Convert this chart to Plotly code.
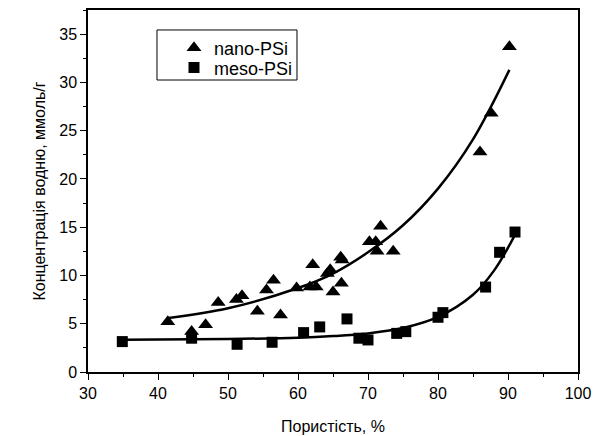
import plotly.graph_objects as go

# nano-PSi measured points
nano_x = [41.4, 44.8, 46.8, 48.6, 51.2, 52.0, 54.2, 55.5, 56.5, 57.5, 59.8, 61.7, 62.1, 62.6,
          64.2, 64.6, 65.0, 66.2, 66.1, 66.3, 70.2, 71.1, 71.3, 71.8, 73.6, 86.0, 87.6, 90.2]
nano_y = [5.2, 4.2, 4.9, 7.2, 7.5, 7.9, 6.3, 8.5, 9.5, 5.9, 8.7, 8.8, 11.1, 8.8,
          10.2, 10.6, 8.3, 9.2, 11.9, 11.6, 13.5, 13.5, 12.5, 15.1, 12.5, 22.8, 26.8, 33.7]

# meso-PSi measured points
meso_x = [34.9, 44.8, 51.3, 56.3, 60.8, 63.1, 67.0, 68.7, 70.0, 74.1, 75.4, 80.0, 80.7, 86.8, 88.8, 91.0]
meso_y = [3.15, 3.5, 2.87, 3.08, 4.08, 4.67, 5.5, 3.5, 3.32, 4.0, 4.18, 5.67, 6.15, 8.8, 12.4, 14.5]

# fitted curves
nano_fit_x = [41.5, 50, 60, 65, 70, 75, 80, 85, 90.2]
nano_fit_y = [5.6, 6.6, 8.7, 10.2, 12.4, 15.2, 19.0, 24.1, 31.3]
meso_fit_x = [35, 50, 60, 65, 70, 75, 80, 85, 88, 91]
meso_fit_y = [3.35, 3.42, 3.55, 3.72, 4.0, 4.55, 5.7, 8.0, 10.5, 14.2]

x_ticks = [30, 40, 50, 60, 70, 80, 90, 100]
y_ticks = [0, 5, 10, 15, 20, 25, 30, 35]

FONT = "Liberation Sans, Arial, sans-serif"

fig = go.Figure()
fig.add_trace(go.Scatter(x=nano_fit_x, y=nano_fit_y, mode="lines", line=dict(color="black", width=2.5, shape="spline"),
                         showlegend=False, hoverinfo="skip"))
fig.add_trace(go.Scatter(x=meso_fit_x, y=meso_fit_y, mode="lines", line=dict(color="black", width=2.5, shape="spline"),
                         showlegend=False, hoverinfo="skip"))
fig.add_trace(go.Scatter(x=nano_x, y=nano_y, mode="markers", name="nano-PSi", legend="legend",
                         marker=dict(symbol="triangle-up", size=13, color="black")))
fig.add_trace(go.Scatter(x=meso_x, y=meso_y, mode="markers", name="meso-PSi", legend="legend2",
                         marker=dict(symbol="square", size=11, color="black")))

axis_common = dict(showline=True, linecolor="black", linewidth=1.5, mirror=True, showgrid=False, zeroline=False,
                   ticks="outside", ticklen=6, tickwidth=1.2, tickcolor="black", automargin=False,
                   tickfont=dict(family=FONT, size=16, color="black"))
fig.update_xaxes(range=[30, 100], tickvals=x_ticks, ticktext=[str(v) for v in x_ticks],
                 minor=dict(dtick=5, ticks="outside", ticklen=3, tickcolor="black"),
                 title=dict(text="Пористість, %", font=dict(family=FONT, size=16, color="black"), standoff=20),
                 **axis_common)
fig.update_yaxes(range=[0, 37.5], tickvals=y_ticks, ticktext=[str(v) for v in y_ticks],
                 minor=dict(dtick=2.5, ticks="outside", ticklen=3, tickcolor="black"),
                 title=dict(text="Концентрація водню, ммоль/г", font=dict(family=FONT, size=16, color="black"), standoff=10),
                 **axis_common)

leg_common = dict(xanchor="left", yanchor="middle", borderwidth=0, bgcolor="rgba(0,0,0,0)",
                  font=dict(family=FONT, size=18, color="black"), itemwidth=30)
fig.update_layout(width=596, height=436, margin=dict(l=88, r=18, t=10, b=64),
                  plot_bgcolor="white", paper_bgcolor="white",
                  legend=dict(x=0.1755, y=0.895, **leg_common),
                  legend2=dict(x=0.1755, y=0.840, **leg_common))
# legend frame
fig.add_shape(type="rect", xref="paper", yref="paper", x0=0.1408, x1=0.4265, y0=0.8066, y1=0.9448,
              line=dict(color="black", width=1), fillcolor="rgba(0,0,0,0)")
fig.write_html("out.html")
